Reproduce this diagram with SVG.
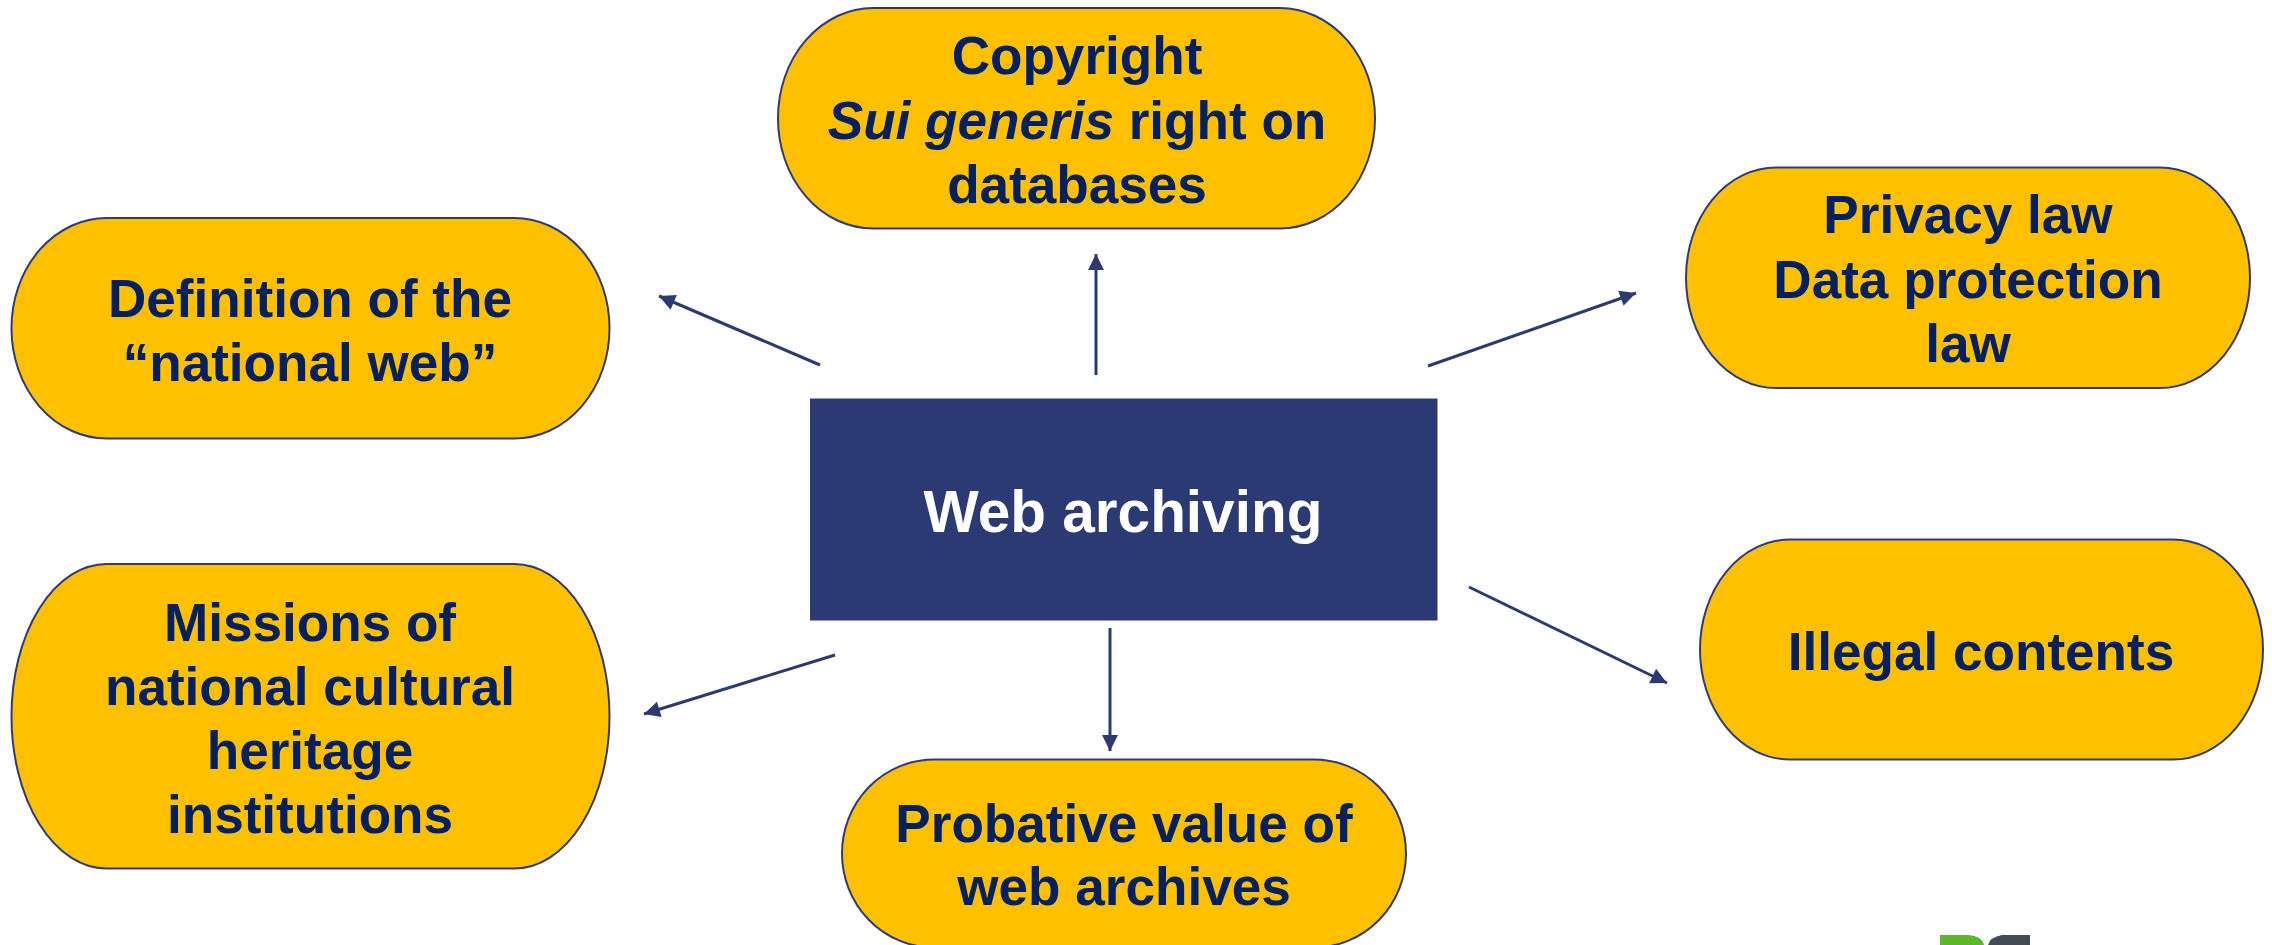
<svg xmlns="http://www.w3.org/2000/svg" width="2272" height="945" viewBox="0 0 2272 945">
<style>
text{font-family:"Liberation Sans",Arial,sans-serif;font-weight:700;font-size:53.100px;fill:#002060;text-anchor:middle}
.n{fill:#FFC000;stroke:#2F3B76;stroke-width:2}
.c{stroke:#2C3A74;stroke-width:3;fill:none;marker-end:url(#a)}
</style>
<defs><marker id="a" markerUnits="userSpaceOnUse" markerWidth="18" markerHeight="18" refX="17" refY="8.5" orient="auto"><path d="M1 0.5L17 8.5L1 16.5Z" fill="#2C3A74"/></marker></defs>
<rect width="2272" height="945" fill="#fff"/>
<g id="connectors">
<line class="c" x1="1096" y1="375" x2="1096" y2="254"/>
<line class="c" x1="820" y1="365" x2="659" y2="296"/>
<line class="c" x1="1428" y1="366" x2="1636" y2="293"/>
<line class="c" x1="1469" y1="587" x2="1667" y2="683"/>
<line class="c" x1="1110" y1="628" x2="1110" y2="751"/>
<line class="c" x1="835" y1="655" x2="644" y2="714"/>
</g>
<g id="center"><rect x="810" y="398.500" width="627.500" height="222" fill="#2C3A74"/><text x="1123" y="532" style="font-size:58.500px;fill:#fff">Web archiving</text></g>
<g id="copyright"><rect class="n" x="778" y="8" width="597" height="220.500" rx="95" ry="110"/><text x="1077" y="74">Copyright</text><text x="1077" y="139"><tspan font-style="italic">Sui generis</tspan> right on</text><text x="1077" y="203">databases</text></g>
<g id="definition"><rect class="n" x="11.500" y="218" width="598" height="220.500" rx="95" ry="110"/><text x="310" y="317">Definition of the</text><text x="310" y="381">“national web”</text></g>
<g id="missions"><rect class="n" x="11.500" y="564" width="598" height="304.500" rx="95" ry="152"/><text x="310" y="641">Missions of</text><text x="310" y="705">national cultural</text><text x="310" y="769">heritage</text><text x="310" y="833">institutions</text></g>
<g id="privacy"><rect class="n" x="1686" y="167.500" width="564" height="220.500" rx="90" ry="110"/><text x="1968" y="233">Privacy law</text><text x="1968" y="298">Data protection</text><text x="1968" y="362">law</text></g>
<g id="illegal"><rect class="n" x="1700" y="539.500" width="563" height="220" rx="90" ry="110"/><text x="1981" y="670">Illegal contents</text></g>
<g id="probative"><rect class="n" x="842" y="759.500" width="564" height="188" rx="92" ry="94"/><text x="1124" y="842">Probative value of</text><text x="1124" y="905">web archives</text></g>
<g id="logo"><path d="M1940 935H1968Q1982 936 1984 945H1940Z" fill="#5CB82A"/><path d="M2030 935H2002Q1990 937 1988 945H2030Z" fill="#454B55"/></g>
</svg>
